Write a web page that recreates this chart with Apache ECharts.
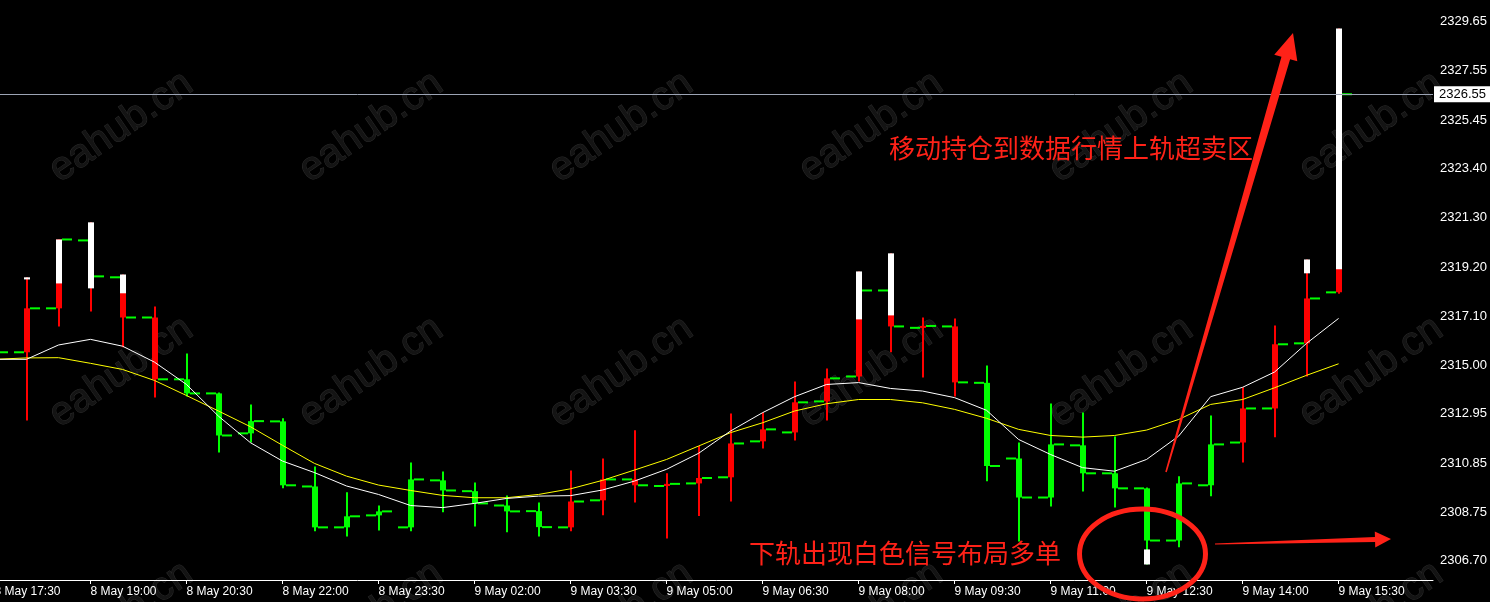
<!DOCTYPE html>
<html>
<head>
<meta charset="utf-8">
<title>XAUUSD M30</title>
<script src="https://cdn.jsdelivr.net/npm/echarts/dist/echarts.min.js"></script>
<style>
    html, body {margin: 0; padding: 0; background: #000;}
    #chart {width: 1490px; height: 602px;}
</style>
</head>
<body>
<div id="chart"></div>
<script>
// ------------------ data (30 min bars, bar 0 = 8 May 17:30) ------------------
const labelTimes = ['8 May 17:30', '8 May 19:00', '8 May 20:30', '8 May 22:00', '8 May 23:30',
    '9 May 02:00', '9 May 03:30', '9 May 05:00', '9 May 06:30', '9 May 08:00',
    '9 May 09:30', '9 May 11:00', '9 May 12:30', '9 May 14:00', '9 May 15:30'];
const labelBars = [0, 3, 6, 9, 12, 15, 18, 21, 24, 27, 30, 33, 36, 39, 42];

const openP = [2315.40, 2315.57, 2317.44, 2320.33, 2318.76, 2317.05, 2314.42, 2313.82, 2312.12, 2312.63,
    2309.86, 2308.12, 2308.63, 2308.12, 2310.12, 2309.66, 2309.05, 2308.81, 2308.12, 2309.27,
    2310.16, 2309.88, 2309.99, 2310.25, 2311.78, 2312.16, 2313.48, 2314.54, 2318.20, 2316.61,
    2316.67, 2314.27, 2311.05, 2309.39, 2311.61, 2310.42, 2309.78, 2307.56, 2309.91, 2311.73,
    2313.18, 2315.95, 2318.12];
const highP = [2315.90, 2318.76, 2320.37, 2321.10, 2318.88, 2317.52, 2315.52, 2313.86, 2313.35, 2312.76,
    2310.71, 2309.61, 2309.05, 2310.88, 2310.50, 2310.03, 2309.48, 2309.18, 2310.54, 2311.05,
    2312.25, 2310.42, 2311.58, 2312.97, 2313.01, 2314.33, 2314.88, 2319.01, 2319.78, 2317.05,
    2317.01, 2315.01, 2311.73, 2313.39, 2313.01, 2311.99, 2309.82, 2310.29, 2312.88, 2314.08,
    2316.71, 2319.52, 2329.35];
const lowP = [2315.10, 2312.67, 2316.67, 2317.31, 2315.78, 2313.65, 2313.69, 2311.31, 2311.73, 2309.78,
    2307.95, 2307.73, 2307.99, 2307.95, 2308.76, 2308.16, 2307.91, 2307.73, 2307.95, 2308.63,
    2309.18, 2307.65, 2308.60, 2309.22, 2311.48, 2311.82, 2312.67, 2314.33, 2315.57, 2314.50,
    2313.69, 2310.08, 2307.52, 2309.01, 2309.65, 2308.97, 2306.54, 2307.27, 2309.44, 2310.88,
    2311.95, 2314.54, 2318.06];
const closeP = [2315.57, 2317.44, 2320.37, 2318.80, 2317.05, 2314.42, 2313.82, 2312.03, 2312.64, 2309.91,
    2308.12, 2308.59, 2308.80, 2310.16, 2309.69, 2309.14, 2308.80, 2308.13, 2309.22, 2310.16,
    2309.91, 2309.97, 2310.22, 2311.69, 2312.29, 2313.44, 2314.46, 2318.20, 2316.67, 2316.69,
    2314.29, 2310.73, 2309.39, 2311.65, 2310.42, 2309.78, 2307.56, 2309.99, 2311.65, 2313.18,
    2315.91, 2317.86, 2326.55];

// r = bar painted red by the indicator, g = plain green bar
const barColor = ['r', 'r', 'r', 'r', 'r', 'r', 'g', 'g', 'g', 'g',
    'g', 'g', 'g', 'g', 'g', 'g', 'g', 'g', 'r', 'r',
    'r', 'r', 'r', 'r', 'r', 'r', 'r', 'r', 'r', 'r',
    'r', 'g', 'g', 'g', 'g', 'g', 'g', 'g', 'g', 'r',
    'r', 'r', 'r'];

// band levels where the white signal shows (price beyond the band)
const upperSig = [null, 2318.67, 2318.50, 2318.29, 2318.08, null, null, null, null, null,
    null, null, null, null, null, null, null, null, null, null,
    null, null, null, null, null, null, null, 2316.97, 2317.14, null,
    null, null, null, null, null, null, null, null, null, null,
    null, 2318.93, 2319.10];
const lowerSig = [null, null, null, null, null, null, null, null, null, null,
    null, null, null, null, null, null, null, null, null, null,
    null, null, null, null, null, null, null, null, null, null,
    null, null, null, null, null, null, 2307.18, null, null, null,
    null, null, null];

const maFast = [2315.27, 2315.27, 2315.88, 2316.12, 2315.83, 2315.15, 2314.20, 2312.85, 2311.72, 2310.94,
    2310.45, 2309.88, 2309.52, 2309.05, 2308.96, 2309.14, 2309.35, 2309.45, 2309.47, 2309.71,
    2310.09, 2310.59, 2311.27, 2312.22, 2313.00, 2313.68, 2314.20, 2314.28, 2314.03, 2313.92,
    2313.64, 2313.10, 2311.86, 2311.22, 2310.66, 2310.51, 2311.01, 2312.00, 2313.68, 2314.08,
    2314.73, 2315.95, 2317.01];
const maSlow = [2315.27, 2315.33, 2315.34, 2315.10, 2314.84, 2314.37, 2313.73, 2313.07, 2312.40, 2311.61,
    2310.84, 2310.30, 2309.92, 2309.69, 2309.48, 2309.38, 2309.38, 2309.52, 2309.76, 2310.12,
    2310.56, 2311.01, 2311.58, 2312.15, 2312.57, 2313.07, 2313.38, 2313.56, 2313.56, 2313.42,
    2313.14, 2312.76, 2312.29, 2312.03, 2311.96, 2312.03, 2312.26, 2312.71, 2313.35, 2313.56,
    2314.06, 2314.59, 2315.08];

const priceTicks = [2329.65, 2327.55, 2325.45, 2323.40, 2321.30, 2319.20, 2317.10, 2315.00,
    2312.95, 2310.85, 2308.75, 2306.70];
const lastPrice = 2326.55;

// ------------------ style ------------------
const GREEN = '#00ff00';
const RED = '#ff0000';
const MARK_RED = '#ff2218';
const AXIS_FONT = '"Liberation Sans", Arial, sans-serif';

function rect(x, y, w, h, color) {
    return {type: 'rect', shape: {x: x, y: y, width: w, height: h}, style: {fill: color}};
}

function renderBar(params, api) {
    let i = params.dataIndex;
    let t = api.value(0);
    let x = Math.round(api.coord([t, 0])[0]);
    let yO = api.coord([t, api.value(1)])[1];
    let yC = api.coord([t, api.value(2)])[1];
    let yL = api.coord([t, api.value(3)])[1];
    let yH = api.coord([t, api.value(4)])[1];
    let col = barColor[i] === 'r' ? RED : GREEN;
    let kids = [];
    kids.push(rect(x - 1, yH, 2, yL - yH, col));                                  // wick
    kids.push(rect(x - 3, Math.min(yO, yC), 6, Math.max(Math.abs(yC - yO), 2), col)); // body
    kids.push(rect(x - 13, yO - 1, 10, 2, GREEN));                                // open tick
    kids.push(rect(x + 3, yC - 1, 10, 2, GREEN));                                 // close tick
    if (upperSig[i] !== null && highP[i] > upperSig[i]) {
        let yU = api.coord([t, upperSig[i]])[1];
        kids.push(rect(x - 3, yH, 6, yU - yH, '#ffffff'));
    }
    if (lowerSig[i] !== null && lowP[i] < lowerSig[i]) {
        let yD = api.coord([t, lowerSig[i]])[1];
        kids.push(rect(x - 3, yD, 6, yL - yD, '#ffffff'));
    }
    return {type: 'group', children: kids};
}

// tapered arrow outline for the hand drawn marks
function arrowPoints(x1, y1, x2, y2, tailW, shaftW, headLen, headW) {
    let len = Math.hypot(x2 - x1, y2 - y1);
    let ux = (x2 - x1) / len, uy = (y2 - y1) / len;
    let nx = -uy, ny = ux;
    let bx = x2 - headLen * ux, by = y2 - headLen * uy;
    return [
        [x1 - tailW * nx, y1 - tailW * ny],
        [bx - shaftW * nx, by - shaftW * ny],
        [bx - headW * nx, by - headW * ny],
        [x2, y2],
        [bx + headW * nx, by + headW * ny],
        [bx + shaftW * nx, by + shaftW * ny],
        [x1 + tailW * nx, y1 + tailW * ny]
    ];
}

let graphics = [];
for (let r = 0; r < 3; r++) {
    for (let c = 0; c < 6; c++) {
        graphics.push({
            type: 'text', x: 121 + 250 * c, y: 127 + 245 * r, rotation: 0.606, z: -10, silent: true,
            style: {
                text: 'eahub.cn', font: '40px "Liberation Sans", Arial, sans-serif',
                fill: '#141414', stroke: '#2b2b2b', lineWidth: 1,
                textAlign: 'center', textVerticalAlign: 'middle'
            }
        });
    }
}
graphics.push({
    type: 'polygon', z: 100, silent: true,
    shape: {points: arrowPoints(1166, 472, 1293, 33, 0.8, 4.5, 26, 12)},
    style: {fill: MARK_RED}
});
graphics.push({
    type: 'polygon', z: 100, silent: true,
    shape: {points: arrowPoints(1215, 544, 1391, 539, 0.6, 2.5, 16, 8)},
    style: {fill: MARK_RED}
});
graphics.push({
    type: 'ellipse', z: 100, silent: true,
    shape: {cx: 1142.5, cy: 554, rx: 63, ry: 45},
    style: {fill: 'none', stroke: MARK_RED, lineWidth: 5}
});
graphics.push({
    type: 'text', x: 889, y: 148, z: 100, silent: true,
    style: {
        text: '移动持仓到数据行情上轨超卖区', font: '26px "Noto Sans CJK SC"',
        fill: MARK_RED, textVerticalAlign: 'middle'
    }
});
graphics.push({
    type: 'text', x: 749, y: 553, z: 100, silent: true,
    style: {
        text: '下轨出现白色信号布局多单', font: '26px "Noto Sans CJK SC"',
        fill: MARK_RED, textVerticalAlign: 'middle'
    }
});

let chart = echarts.init(document.getElementById('chart'));
let option = {
    backgroundColor: '#000',
    animation: false,
    grid: {left: -21.5, right: 57, top: 0, bottom: 22, containLabel: false, outerBoundsMode: 'none'},
    xAxis: {
        type: 'value', min: -0.5, max: 44.95,
        axisLine: {show: true, onZero: false, lineStyle: {color: '#fff', width: 1}},
        axisTick: {show: true, customValues: labelBars, length: 4, lineStyle: {color: '#fff'}},
        axisLabel: {
            customValues: labelBars, align: 'left', margin: 6,
            color: '#fff', fontSize: 12, fontFamily: AXIS_FONT,
            formatter: function (v) {
                return labelTimes[labelBars.indexOf(Math.round(v))];
            }
        },
        splitLine: {show: false}
    },
    yAxis: {
        type: 'value', position: 'right', min: 2305.88, max: 2330.56, scale: true,
        axisLine: {show: true, lineStyle: {color: '#fff', width: 1}},
        axisTick: {show: true, customValues: priceTicks, length: 4, lineStyle: {color: '#fff'}},
        axisLabel: {
            customValues: priceTicks, margin: 7,
            color: '#fff', fontSize: 13, fontFamily: AXIS_FONT,
            formatter: function (v) {
                return v.toFixed(2);
            }
        },
        splitLine: {show: false}
    },
    graphic: graphics,
    series: [
        {
            name: 'MA slow', type: 'line', z: 3, silent: true, showSymbol: false,
            data: maSlow.map((v, i) => [i, v]),
            lineStyle: {color: '#ffff00', width: 1}
        },
        {
            name: 'MA fast', type: 'line', z: 3, silent: true, showSymbol: false,
            data: maFast.map((v, i) => [i, v]),
            lineStyle: {color: '#ffffff', width: 1},
            markLine: {
                silent: true, symbol: ['none', 'none'], animation: false,
                lineStyle: {color: '#9ca4b4', width: 1, type: 'solid'},
                label: {
                    show: true, position: 'end', distance: 1,
                    formatter: lastPrice.toFixed(2),
                    color: '#000', backgroundColor: '#fff',
                    fontSize: 13, fontFamily: AXIS_FONT, padding: [2, 6, 1, 5]
                },
                data: [{yAxis: lastPrice}]
            }
        },
        {
            name: 'bars', type: 'custom', z: 2, silent: true, clip: true,
            renderItem: renderBar,
            encode: {x: 0, y: [1, 2, 3, 4]},
            data: openP.map((o, i) => [i, o, closeP[i], lowP[i], highP[i]])
        }
    ]
};
chart.setOption(option);
</script>
</body>
</html>
